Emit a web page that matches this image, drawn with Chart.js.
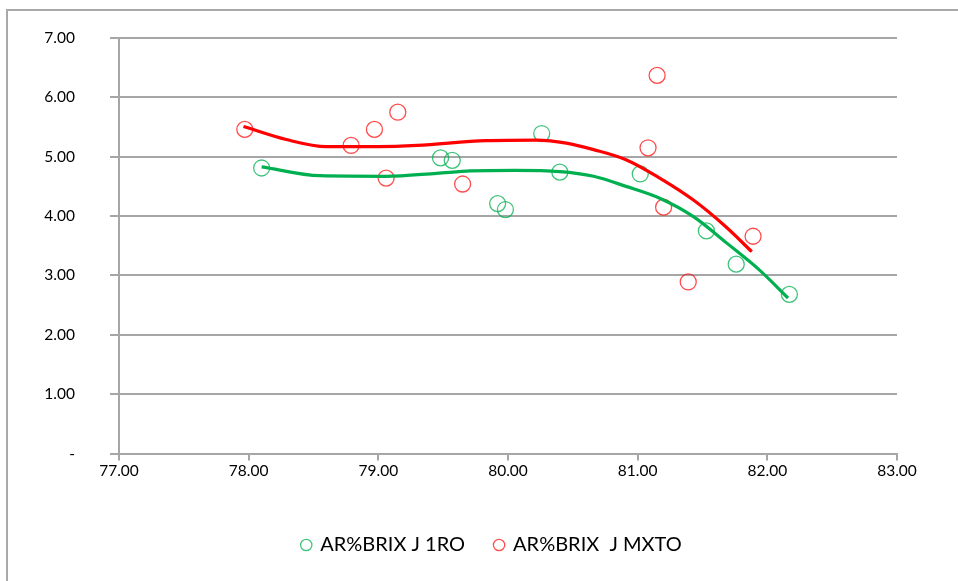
<!DOCTYPE html>
<html><head><meta charset="utf-8">
<script src="https://cdn.jsdelivr.net/npm/chart.js@4"></script>
<style>
html,body{margin:0;padding:0;background:#fff;overflow:hidden}
#wrap{position:relative;width:958px;height:581px;overflow:hidden}
#frame{position:absolute;left:6px;top:9px;width:1000px;height:700px;border:2px solid #a9a9a9;box-sizing:border-box}
canvas{position:absolute;left:0;top:0}
</style></head>
<body><div id="wrap"><div id="frame"></div><canvas id="c" width="958" height="581"></canvas></div>
<script>
// Scatter points
const series1Name = 'AR%BRIX J 1RO';
const series1X = [78.10, 79.48, 79.57, 79.92, 79.98, 80.26, 80.40, 81.02, 81.53, 81.76, 82.17];
const series1Y = [4.81, 4.98, 4.94, 4.21, 4.11, 5.39, 4.74, 4.71, 3.75, 3.19, 2.68];
const series2Name = 'AR%BRIX  J MXTO';
const series2X = [77.97, 78.79, 78.97, 79.15, 79.06, 79.65, 81.15, 81.08, 81.20, 81.39, 81.89];
const series2Y = [5.46, 5.19, 5.46, 5.75, 4.64, 4.54, 6.37, 5.15, 4.15, 2.89, 3.66];
// Trendlines
const trend1X = [78.10, 78.55, 79.06, 79.45, 79.71, 80.05, 80.40, 80.66, 80.91, 81.17, 81.43, 81.69, 81.94, 82.16];
const trend1Y = [4.83, 4.68, 4.67, 4.72, 4.76, 4.77, 4.75, 4.67, 4.50, 4.30, 3.99, 3.54, 3.09, 2.62];
const trend2X = [77.96, 78.29, 78.60, 79.00, 79.30, 79.83, 80.22, 80.45, 80.66, 80.91, 81.17, 81.43, 81.68, 81.88];
const trend2Y = [5.51, 5.29, 5.17, 5.17, 5.19, 5.27, 5.28, 5.23, 5.12, 4.95, 4.64, 4.27, 3.82, 3.40];
// Axes
const xTicks = [77, 78, 79, 80, 81, 82, 83];
const yTicks = [0, 1, 2, 3, 4, 5, 6, 7];

const zip = (xs, ys) => xs.map((x, i) => ({x: x, y: ys[i]}));
const FONT = 'Lato, "Open Sans", sans-serif';
const GRID = '#a6a6a6';
const PAD_LEFT = 26;

new Chart(document.getElementById('c'), {
  type: 'scatter',
  data: {
    datasets: [
      {label: series1Name, data: zip(series1X, series1Y), borderColor: 'rgba(0,176,80,0.75)', backgroundColor: 'rgba(0,0,0,0)', pointRadius: 8, pointBorderWidth: 1.3, pointHoverRadius: 8, order: 3},
      {label: series2Name, data: zip(series2X, series2Y), borderColor: 'rgba(255,0,0,0.7)', backgroundColor: 'rgba(0,0,0,0)', pointRadius: 8, pointBorderWidth: 1.3, pointHoverRadius: 8, order: 4},
      {label: 'trend1', data: zip(trend1X, trend1Y), showLine: true, borderColor: '#00b050', borderWidth: 3.2, pointRadius: 0, cubicInterpolationMode: 'monotone', order: 1},
      {label: 'trend2', data: zip(trend2X, trend2Y), showLine: true, borderColor: '#ff0000', borderWidth: 3.2, pointRadius: 0, cubicInterpolationMode: 'monotone', order: 2}
    ]
  },
  options: {
    responsive: false,
    animation: false,
    events: [],
    layout: {padding: {left: PAD_LEFT, top: 38, right: 0, bottom: 16}},
    plugins: {
      tooltip: {enabled: false},
      legend: {
        position: 'bottom',
        labels: {
          filter: (item) => item.datasetIndex < 2,
          usePointStyle: true, pointStyle: 'circle',
          boxWidth: 8, boxHeight: 8,
          color: '#000', padding: 30,
          font: {family: FONT, size: 20}
        }
      }
    },
    scales: {
      x: {
        type: 'linear', min: 77, max: 83,
        afterBuildTicks: (s) => { s.ticks = xTicks.map(v => ({value: v})); },
        afterFit: (s) => { s.height = 51.5; },
        ticks: {color: '#000', font: {family: FONT, size: 15.5}, padding: 1, callback: (v) => v.toFixed(2)},
        grid: {drawOnChartArea: false, color: GRID, tickLength: 7, lineWidth: 2},
        border: {color: GRID, width: 2}
      },
      y: {
        min: 0, max: 7,
        afterBuildTicks: (s) => { s.ticks = yTicks.map(v => ({value: v})); },
        afterFit: (s) => { s.width = 119 - PAD_LEFT; s.paddingTop = 10; s.paddingBottom = 10; },
        ticks: {color: '#000', font: {family: FONT, size: 15.5}, padding: 35, callback: (v) => v === 0 ? '-' : v.toFixed(2)},
        grid: {color: GRID, tickLength: 9, lineWidth: 2},
        border: {color: GRID, width: 2}
      },
      yRight: {
        position: 'right', min: 0, max: 7,
        afterFit: (s) => { s.width = 61; s.paddingTop = 0; s.paddingBottom = 0; },
        ticks: {display: false},
        grid: {display: false},
        border: {display: false}
      }
    }
  }
});
</script>
</body></html>
